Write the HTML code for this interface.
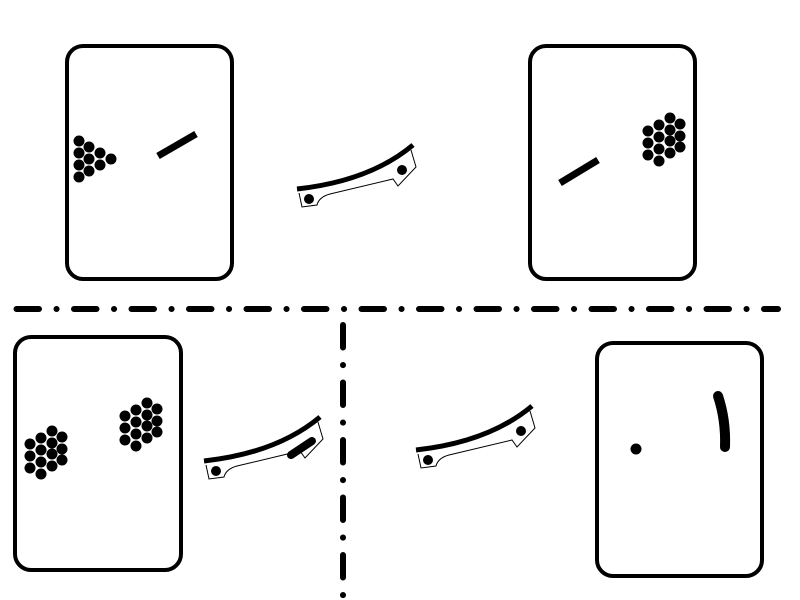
<!DOCTYPE html>
<html><head><meta charset="utf-8"><style>html,body{margin:0;padding:0;background:#fff}svg{display:block}</style></head>
<body>
<svg width="800" height="600" viewBox="0 0 800 600" xmlns="http://www.w3.org/2000/svg">
<defs>
<g id="arcpiece">
<path d="M299 193 L302 207 L317 205 Q319 197 330 194 L393 179 L398 186 L416 167 L411 150" fill="#fff" stroke="#000" stroke-width="1"/>
<path d="M297 189 Q370 181 413 145" fill="none" stroke="#000" stroke-width="5"/>
</g>
<g id="hex" fill="#000">
<circle cx="0" cy="13" r="5.5"/><circle cx="0" cy="25" r="5.5"/><circle cx="0" cy="37" r="5.5"/>
<circle cx="11" cy="7" r="5.5"/><circle cx="11" cy="19" r="5.5"/><circle cx="11" cy="31" r="5.5"/><circle cx="11" cy="43" r="5.5"/>
<circle cx="22" cy="0" r="5.5"/><circle cx="22" cy="12" r="5.5"/><circle cx="22" cy="23" r="5.5"/><circle cx="22" cy="35" r="5.5"/>
<circle cx="32" cy="6" r="5.5"/><circle cx="32" cy="18" r="5.5"/><circle cx="32" cy="29" r="5.5"/>
</g>
</defs>
<g fill="none" stroke="#000" stroke-width="4">
<rect x="67" y="46" width="165" height="233" rx="16"/>
<rect x="530" y="46" width="165" height="233" rx="16"/>
<rect x="15" y="337" width="166" height="233" rx="16"/>
<rect x="597" y="343" width="165" height="233" rx="16"/>
</g>
<g fill="none" stroke="#000" stroke-width="6" stroke-linecap="round" stroke-dasharray="22.5 17.5 0.1 17.4">
<line x1="16.5" y1="309" x2="778" y2="309"/>
<line x1="343" y1="325" x2="343" y2="598"/>
</g>
<g fill="#000">
<circle cx="79" cy="141" r="5.5"/><circle cx="79" cy="153" r="5.5"/><circle cx="79" cy="165" r="5.5"/><circle cx="79" cy="177" r="5.5"/>
<circle cx="89" cy="147" r="5.5"/><circle cx="89" cy="159" r="5.5"/><circle cx="89" cy="171" r="5.5"/>
<circle cx="100" cy="153" r="5.5"/><circle cx="100" cy="165" r="5.5"/>
<circle cx="111" cy="159" r="5.5"/>
</g>
<use href="#hex" x="648" y="118"/>
<use href="#hex" x="125" y="403"/>
<use href="#hex" x="30" y="431"/>
<line x1="158" y1="156" x2="196" y2="134" stroke="#000" stroke-width="7"/>
<line x1="560" y1="183" x2="598" y2="160" stroke="#000" stroke-width="7"/>
<use href="#arcpiece"/>
<circle cx="309" cy="199" r="5"/><circle cx="402" cy="170" r="5"/>
<g transform="translate(-93,272)"><use href="#arcpiece"/><circle cx="309" cy="199" r="5"/></g>
<line x1="291" y1="455" x2="312" y2="441" stroke="#000" stroke-width="8" stroke-linecap="round"/>
<g transform="translate(119,261)"><use href="#arcpiece"/><circle cx="309" cy="199" r="5"/><circle cx="402" cy="170" r="5"/></g>
<circle cx="636" cy="449" r="5.5"/>
<path d="M718 396 Q726 420 725 447" fill="none" stroke="#000" stroke-width="10" stroke-linecap="round"/>
</svg>
</body></html>
